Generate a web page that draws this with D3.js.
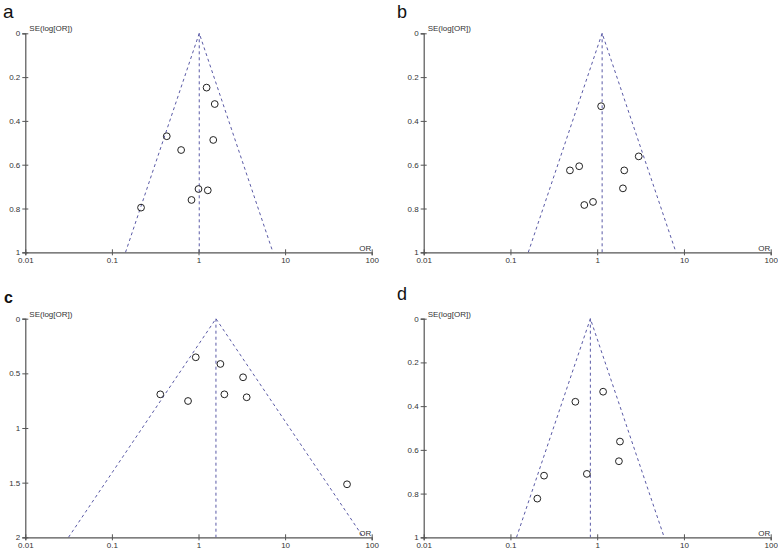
<!DOCTYPE html>
<html>
<head>
<meta charset="utf-8">
<script src="https://cdn.jsdelivr.net/npm/d3@7"></script>
<style>
  body { margin: 0; background: #fff; }
  svg { display: block; font-family: "Liberation Sans", Arial, sans-serif; }
  .tick text { font-size: 8px; fill: #333; }
</style>
</head>
<body>
<script>
// panel letters
const panelNames = ["a", "b", "c", "d"]

// odds ratios and standard errors for each study, by panel
const orA = [1.24, 1.54, 0.43, 1.48, 0.63, 1.0, 1.28, 0.83, 0.217]
const seA = [0.248, 0.323, 0.47, 0.487, 0.533, 0.711, 0.717, 0.761, 0.796]

const orB = [1.11, 3.01, 0.62, 0.485, 2.05, 1.98, 0.895, 0.71]
const seB = [0.333, 0.562, 0.607, 0.626, 0.626, 0.708, 0.77, 0.784]

const orC = [0.93, 1.79, 3.27, 0.362, 1.99, 3.6, 0.757, 51.9]
const seC = [0.353, 0.414, 0.536, 0.692, 0.692, 0.719, 0.753, 1.515]

const orD = [1.17, 0.56, 1.83, 1.78, 0.76, 0.244, 0.204]
const seD = [0.334, 0.38, 0.562, 0.652, 0.71, 0.718, 0.823]

// pooled OR (apex of the funnel)
const pooled = [1.02, 1.14, 1.59, 0.834]

// axis ticks
const xTicks = [0.01, 0.1, 1, 10, 100]
const xTickLabels = ["0.01", "0.1", "1", "10", "100"]
const yTicksSmall = [0, 0.2, 0.4, 0.6, 0.8, 1]
const yTicksLarge = [0, 0.5, 1, 1.5, 2]
const yMax = [1, 1, 2, 1]

const ors = [orA, orB, orC, orD]
const ses = [seA, seB, seC, seD]
const yTickSets = [yTicksSmall, yTicksSmall, yTicksLarge, yTicksSmall]

// layout of each panel in the page
const boxes = [
    { x0: 25.3, x1: 371.7, y0: 33.3, y1: 252.3 },
    { x0: 423.7, x1: 770.7, y0: 33.3, y1: 252.3 },
    { x0: 25.3, x1: 371.7, y0: 318.7, y1: 537.3 },
    { x0: 423.7, x1: 770.7, y0: 318.7, y1: 537.3 }
]
const letterPos = [
    { x: 3, y: 17.5, size: 19, weight: "normal" },
    { x: 397, y: 17.5, size: 18, weight: "normal" },
    { x: 4, y: 303, size: 16, weight: "bold" },
    { x: 397, y: 300, size: 18, weight: "normal" }
]

const lineColor = "#5a5aa6"
const axisColor = "#555"

const svg = d3.select("body")
    .append("svg")
    .attr("width", 778)
    .attr("height", 550)

panelNames.forEach((name, i) => {
    const b = boxes[i]
    const x = d3.scaleLog().domain([0.01, 100]).range([b.x0, b.x1])
    const y = d3.scaleLinear().domain([0, yMax[i]]).range([b.y0, b.y1])
    const g = svg.append("g")

    // panel letter
    svg.append("text")
        .attr("x", letterPos[i].x)
        .attr("y", letterPos[i].y)
        .style("font-size", letterPos[i].size + "px")
        .style("font-weight", letterPos[i].weight)
        .attr("fill", "#111")
        .text(name)

    // funnel: 95% pseudo confidence limits
    const p = pooled[i]
    const ym = yMax[i]
    const funnel = [
        [p * Math.exp(-1.96 * ym), ym],
        [p, 0],
        [p * Math.exp(1.96 * ym), ym]
    ]
    const line = d3.line().x(d => x(d[0])).y(d => y(d[1]))
    g.append("path")
        .attr("d", line(funnel))
        .attr("fill", "none")
        .attr("stroke", lineColor)
        .attr("stroke-width", 1)
        .attr("stroke-dasharray", "3,3")
    g.append("path")
        .attr("d", line([[p, 0], [p, ym]]))
        .attr("fill", "none")
        .attr("stroke", lineColor)
        .attr("stroke-width", 1)
        .attr("stroke-dasharray", "3,3")

    // axes
    const xAxis = d3.axisBottom(x)
        .tickValues(xTicks)
        .tickFormat((d, j) => xTickLabels[j])
        .tickSize(3)
        .tickPadding(2)
    const xg = g.append("g")
        .attr("transform", "translate(0," + b.y1 + ")")
        .call(xAxis)
    xg.selectAll(".tick line").attr("y1", -3).attr("y2", 3)

    const yAxis = d3.axisLeft(y)
        .tickValues(yTickSets[i])
        .tickFormat(d => d3.format("~g")(d))
        .tickSize(3)
        .tickPadding(2)
    const yg = g.append("g")
        .attr("transform", "translate(" + b.x0 + ",0)")
        .call(yAxis)
    yg.selectAll(".tick line").attr("x1", -3).attr("x2", 3)

    g.selectAll(".domain").attr("stroke", axisColor).attr("stroke-width", 1.2)
    g.selectAll(".tick line").attr("stroke", axisColor)

    // axis titles
    g.append("text")
        .attr("x", b.x0 + 4)
        .attr("y", b.y0 - 2)
        .style("font-size", "8px")
        .attr("fill", "#333")
        .text("SE(log[OR])")
    g.append("text")
        .attr("x", b.x1 - 0.5)
        .attr("y", b.y1 - 1.5)
        .attr("text-anchor", "end")
        .style("font-size", "8px")
        .attr("fill", "#333")
        .text("OR")

    // studies
    g.selectAll("circle")
        .data(ors[i].map((o, j) => ({ or: o, se: ses[i][j] })))
        .enter()
        .append("circle")
        .attr("cx", d => x(d.or))
        .attr("cy", d => y(d.se))
        .attr("r", 3.4)
        .attr("fill", "none")
        .attr("stroke", "#222")
        .attr("stroke-width", 1)
})
</script>
</body>
</html>
